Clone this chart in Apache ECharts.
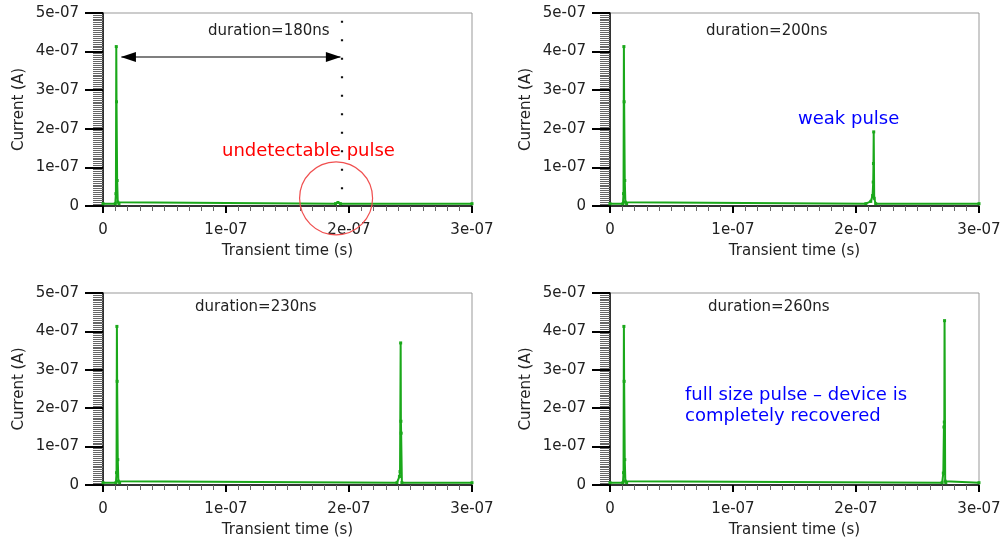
<!DOCTYPE html>
<html><head><meta charset="utf-8">
<script src="https://cdn.jsdelivr.net/npm/echarts@6/dist/echarts.min.js"></script>
<style>html,body{margin:0;padding:0;background:#fff}#c{width:1005px;height:539px}</style>
</head><body><div id="c"></div>
<script>
// ---- data, SI units: seconds, amperes ----
const xMin = 0, xMax = 3e-7, xStep = 1e-7;
const yMin = 0, yMax = 5e-7, yStep = 1e-7;
const xTitle = 'Transient time (s)';
const yTitle = 'Current (A)';

const t180 = [0, 1.00e-8, 1.05e-8, 1.08e-8, 1.10e-8, 1.15e-8, 1.20e-8, 1.30e-8, 1.89e-7, 1.91e-7, 1.93e-7, 3e-7];
const i180 = [6e-9, 6e-9, 3.2e-8, 4.13e-7, 2.7e-7, 6.6e-8, 1.0e-8, 6e-9, 6e-9, 9e-9, 6e-9, 6e-9];

const t200 = [0, 1.05e-8, 1.10e-8, 1.13e-8, 1.15e-8, 1.20e-8, 1.25e-8, 1.35e-8, 2.08e-7, 2.12e-7, 2.135e-7, 2.14e-7, 2.142e-7, 2.144e-7, 2.148e-7, 2.16e-7, 3e-7];
const i200 = [6e-9, 6e-9, 3.2e-8, 4.13e-7, 2.7e-7, 6.6e-8, 1.0e-8, 6e-9, 6e-9, 1.2e-8, 2.7e-8, 6.2e-8, 1.1e-7, 1.92e-7, 2.0e-8, 6e-9, 6e-9];

const t230 = [0, 1.05e-8, 1.10e-8, 1.13e-8, 1.15e-8, 1.20e-8, 1.25e-8, 1.35e-8, 2.39e-7, 2.41e-7, 2.415e-7, 2.42e-7, 2.422e-7, 2.424e-7, 2.43e-7, 3e-7];
const i230 = [6e-9, 6e-9, 3.2e-8, 4.13e-7, 2.7e-7, 6.6e-8, 1.0e-8, 6e-9, 6e-9, 2.2e-8, 3.5e-8, 3.70e-7, 1.66e-7, 1.35e-7, 6e-9, 6e-9];

const t260 = [0, 1.05e-8, 1.10e-8, 1.13e-8, 1.15e-8, 1.20e-8, 1.25e-8, 1.35e-8, 2.70e-7, 2.71e-7, 2.715e-7, 2.718e-7, 2.72e-7, 2.725e-7, 2.73e-7, 3e-7];
const i260 = [6e-9, 6e-9, 3.2e-8, 4.13e-7, 2.7e-7, 6.6e-8, 1.0e-8, 6e-9, 6e-9, 3.1e-8, 1.51e-7, 1.64e-7, 4.28e-7, 1.0e-8, 6e-9, 6e-9];

// annotations (SI)
const arrowFrom = [1.5e-8, 3.86e-7], arrowTo = [1.93e-7, 3.86e-7];
const dotX = 1.94e-7, dotTop = 4.8e-7;
const circleAt = [1.895e-7, 2.0e-8];

// ---- chart: plot in units of 1e-9 s and 1e-7 A to keep numbers well-conditioned ----
const XU = 1e-9, YU = 1e-7;
const sx = v => v / XU, sy = v => v / YU;
const FONT = 'DejaVu Sans';
const GREEN = '#1aa81a';
const grids = [
  {left: 103, top: 13, width: 369, height: 193},
  {left: 610, top: 13, width: 369, height: 193},
  {left: 103, top: 293, width: 369, height: 193},
  {left: 610, top: 293, width: 369, height: 193}
];
function fmt(v){
  if (Math.abs(v) < 1e-20) return '0';
  const s = v.toExponential(0);
  return s.replace(/e-(\d)$/, 'e-0$1');
}
const pairs = (t, y) => t.map((x, k) => [sx(x), sy(y[k])]);
const pt = p => [sx(p[0]), sy(p[1])];

const xAxes = grids.map((g, i) => ({
  gridIndex: i, type: 'value', min: sx(xMin), max: sx(xMax), interval: sx(xStep),
  axisLine: {onZero: false, lineStyle: {color: '#000', width: 1.5}},
  axisTick: {length: 7, lineStyle: {color: '#000', width: 2}},
  minorTick: {show: true, splitNumber: 10, length: 5, lineStyle: {color: '#666', width: 1}},
  splitLine: {show: false}, minorSplitLine: {show: false},
  axisLabel: {formatter: v => fmt(v * XU), fontSize: 15, color: '#222', margin: 17, fontFamily: FONT},
  name: xTitle, nameLocation: 'middle', nameGap: 38,
  nameTextStyle: {fontSize: 15, color: '#222', fontFamily: FONT}
}));
const yAxes = grids.map((g, i) => ({
  gridIndex: i, type: 'value', min: sy(yMin), max: sy(yMax), interval: sy(yStep),
  axisLine: {onZero: false, lineStyle: {color: '#000', width: 1.5}},
  axisTick: {length: 18, lineStyle: {color: '#000', width: 2}},
  minorTick: {show: true, splitNumber: 20, length: 10, lineStyle: {color: '#666', width: 1}},
  splitLine: {show: false}, minorSplitLine: {show: false},
  axisLabel: {formatter: v => fmt(v * YU), fontSize: 15, color: '#222', margin: 24, fontFamily: FONT},
  name: yTitle, nameLocation: 'middle', nameGap: 76,
  nameTextStyle: {fontSize: 15, color: '#222', fontFamily: FONT}
}));

const lineBase = {
  type: 'line', symbol: 'rect', symbolSize: 3, showSymbol: true,
  lineStyle: {color: GREEN, width: 2}, itemStyle: {color: GREEN},
  animation: false, clip: true
};
const data = [pairs(t180, i180), pairs(t200, i200), pairs(t230, i230), pairs(t260, i260)];
const series = data.map((d, i) => Object.assign({}, lineBase, {xAxisIndex: i, yAxisIndex: i, data: d}));

// arrow line (gray) + separate black arrowheads
series[0].markLine = {
  silent: true, animation: false,
  label: {show: false},
  data: [
    [{coord: pt(arrowFrom), symbol: 'none', lineStyle: {color: '#555', width: 1.5, type: 'solid'}},
     {coord: pt(arrowTo), symbol: 'none'}],
    [{coord: [sx(dotX), sy(dotTop)], symbol: 'none', lineStyle: {color: '#111', width: 2.2, type: [2, 16.5]}},
     {coord: [sx(dotX), 0], symbol: 'none'}]
  ]
};
series[0].markPoint = {
  silent: true, animation: false,
  label: {show: false},
  data: [
    {coord: pt(circleAt), symbol: 'circle', symbolSize: 73,
     itemStyle: {color: 'rgba(0,0,0,0)', borderColor: '#f05050', borderWidth: 1.2}},
    {coord: pt(arrowFrom), symbol: 'triangle', symbolSize: [10, 15], symbolRotate: 90,
     symbolOffset: [7, 0], itemStyle: {color: '#000'}},
    {coord: pt(arrowTo), symbol: 'triangle', symbolSize: [10, 15], symbolRotate: -90,
     symbolOffset: [-7, 0], itemStyle: {color: '#000'}}
  ]
};

function txt(x, y, s, size, color){
  return {type: 'text', x: x, y: y, silent: true, z: 100,
    style: {text: s, fontSize: size, fontFamily: FONT, fill: color, textVerticalAlign: 'middle'}};
}

const chart = echarts.init(document.getElementById('c'), null, {renderer: 'canvas'});
chart.setOption({
  animation: false,
  backgroundColor: '#fff',
  grid: grids.map(g => Object.assign({show: true, borderColor: '#999', borderWidth: 1, backgroundColor: 'transparent'}, g)),
  xAxis: xAxes, yAxis: yAxes, series: series,
  graphic: [
    txt(208, 31, 'duration=180ns', 15, '#222'),
    txt(706, 31, 'duration=200ns', 15, '#222'),
    txt(195, 307, 'duration=230ns', 15, '#222'),
    txt(708, 307, 'duration=260ns', 15, '#222'),
    txt(222, 151, 'undetectable pulse', 18, '#ff0000'),
    txt(798, 119, 'weak pulse', 18, '#0000ff'),
    txt(685, 395, 'full size pulse \u2013 device is', 18, '#0000ff'),
    txt(685, 416, 'completely recovered', 18, '#0000ff')
  ]
});
</script></body></html>
